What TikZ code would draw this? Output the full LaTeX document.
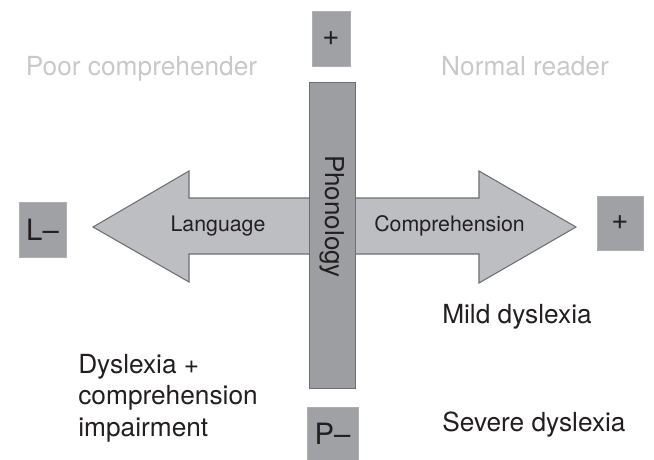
\documentclass[tikz,border=0pt]{standalone}
\usepackage{fontspec}
\setmainfont{TeX Gyre Heros}
\usepackage{tikz}
\usetikzlibrary{positioning}

\definecolor{boxgray}{HTML}{A0A1A5}
\definecolor{bargray}{HTML}{9D9EA2}
\definecolor{arrowgray}{HTML}{BDBEC1}
\definecolor{edgegray}{HTML}{6E6F72}
\definecolor{faintgray}{HTML}{C8C9CB}
\definecolor{ink}{HTML}{231F20}

\begin{document}
\begin{tikzpicture}[x=0.75pt, y=-0.75pt,
signbox/.style={draw=boxgray!85!white, fill=boxgray, inner sep=0pt, text=ink,
  font=\fontsize{22}{26}\selectfont},
bar/.style={draw=edgegray, fill=bargray, line width=0.7pt, inner sep=0pt},
reader/.style={text=ink, inner sep=0pt, font=\fontsize{19.7}{23.6}\selectfont},
faint/.style={text=faintgray, inner sep=0pt, font=\fontsize{19.7}{23.6}\selectfont},
axislabel/.style={text=ink, inner sep=0pt, font=\fontsize{16}{19}\selectfont}]

\useasboundingbox (0,0) rectangle (654,460);

% double arrow (language / comprehension)
\draw[edgegray, fill=arrowgray, line width=0.8pt, line join=miter]
  (93,227) -- (189,171) -- (189,198) -- (479,198) -- (479,171) -- (576,227)
  -- (479,283) -- (479,254) -- (189,254) -- (189,282) -- cycle;

% phonology bar
\node[bar, minimum width=34.5pt, minimum height=229.5pt] (phonbar) at (332,235) {};
\node[reader, rotate=-90, font=\fontsize{19.5}{23}\selectfont] (phon) at (332,216.5) {Phonology};

% end boxes
\node[signbox, minimum width=28.5pt, minimum height=41.25pt] (pplus) at (331,38.5) {+};
\node[signbox, minimum width=38.25pt, minimum height=39.75pt] (pminus) at (332.5,433.5) {P\textendash};
\node[signbox, minimum width=35.25pt, minimum height=41.25pt] (lminus) at (42.5,229.5) {L\textendash};
\node[signbox, minimum width=34.5pt, minimum height=40.5pt] (lplus) at (620,223) {+};

% axis labels
\node[axislabel, anchor=base] (lang) at (218,231) {Language};
\node[axislabel, anchor=base] (comp) at (449.5,231) {Comprehension};

% quadrants
\node[faint, anchor=base] (poor) at (141.5,76) {Poor comprehender};
\node[faint, anchor=base] (normal) at (525,76) {Normal reader};
\node[reader, anchor=base west] (mild) at (442,323) {Mild dyslexia};
\node[reader, anchor=base west] (severe) at (442,431) {Severe dyslexia};
\node[reader, anchor=base west, align=left] (dyscomp) at (78,436)
  {Dyslexia +\\comprehension\\impairment};

\end{tikzpicture}
\end{document}
